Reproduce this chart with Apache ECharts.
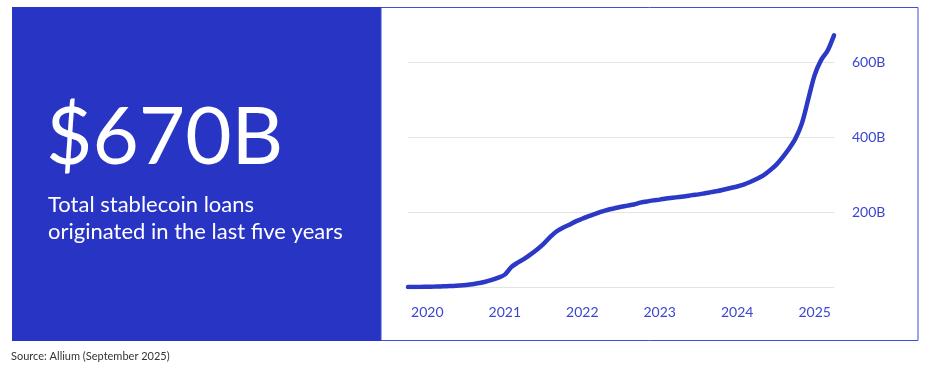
<!DOCTYPE html>
<html>
<head>
<meta charset="utf-8">
<script src="https://cdn.jsdelivr.net/npm/echarts@6/dist/echarts.min.js"></script>
<style>
html,body{margin:0;padding:0;background:#fff;}
#chart{width:930px;height:366px;}
</style>
</head>
<body>
<div id="chart"></div>
<script>
// Monthly categories (Oct 2019 .. Apr 2025 positions on the axis)
const months = [];
for (let y = 2019, m = 10; months.length < 67; ) {
  months.push(y + '-' + String(m).padStart(2, '0'));
  m++; if (m > 12) { m = 1; y++; }
}
// Cumulative stablecoin loans originated, billions USD
const loans = [
  0, 0, 0.3, 0.6, 1, 1.5, 2.2, 2.8, 4, 5.5, 7.5, 10.5,
  14, 19, 25, 33, 53, 65, 75, 87, 100, 115, 133, 148,
  158, 166, 175, 182, 189, 195, 201, 206, 210, 214, 217, 220,
  225, 228, 231, 233, 236, 238, 240, 242, 245, 247, 250, 253,
  256, 260, 264, 268, 273, 280, 288, 297, 310, 325, 345, 368,
  395, 435, 500, 565, 605, 630, 671
];
const yTicks = [200, 400, 600];
const headline = '$670B';
const subtitle = ['Total stablecoin loans', 'originated in the last five years'];
const source = 'Source: Allium (September 2025)';

const BLUE = '#2834c3';
const LINE = '#2b39c6';
const LABEL = '#3a46cf';

const chart = echarts.init(document.getElementById('chart'), null, {renderer: 'canvas'});
chart.setOption({
  animation: false,
  backgroundColor: '#ffffff',
  graphic: [
    { type: 'rect', z: -10, shape: { x: 12, y: 7, width: 369, height: 334 }, style: { fill: BLUE } },
    { type: 'rect', z: -10, shape: { x: 381, y: 7.5, width: 537, height: 333 }, style: { fill: 'none', stroke: '#3f4fd8', lineWidth: 1 } },
    { type: 'text', left: 46, top: 98, style: { text: headline, fill: '#ffffff', font: '400 80px Lato', } },
    { type: 'text', left: 48, top: 194, style: { text: subtitle[0], fill: '#ffffff', font: '400 22px Lato' } },
    { type: 'text', left: 48, top: 221, style: { text: subtitle[1], fill: '#ffffff', font: '400 22px Lato' } },
    { type: 'text', left: 11, top: 351, style: { text: source, fill: '#333333', font: '400 11px Lato' } }
  ],
  grid: { left: 408, right: 96, top: 24.5, bottom: 79, containLabel: false },
  xAxis: {
    type: 'category',
    data: months,
    boundaryGap: false,
    axisLine: { show: false },
    axisTick: { show: false },
    splitLine: { show: false },
    axisLabel: {
      interval: function (idx, val) { return val.slice(5) === '01'; },
      formatter: function (val) { return val.slice(0, 4); },
      color: LABEL, fontSize: 14, fontFamily: 'Lato', margin: 18
    }
  },
  yAxis: {
    type: 'value',
    position: 'right',
    min: 0, max: 700, interval: 200,
    axisLine: { show: false },
    axisTick: { show: false },
    splitLine: { show: true, showMaxLine: false, lineStyle: { color: '#e3e3e3', width: 1 } },
    axisLabel: {
      showMinLabel: false, showMaxLabel: false,
      formatter: function (v) { return yTicks.indexOf(v) >= 0 ? v + 'B' : ''; },
      color: LABEL, fontSize: 14, fontFamily: 'Lato', margin: 18
    }
  },
  series: [{
    type: 'line',
    data: loans,
    smooth: 0.3,
    symbol: 'none',
    lineStyle: { color: LINE, width: 4.5, cap: 'round', join: 'round' }
  }]
});
</script>
</body>
</html>
